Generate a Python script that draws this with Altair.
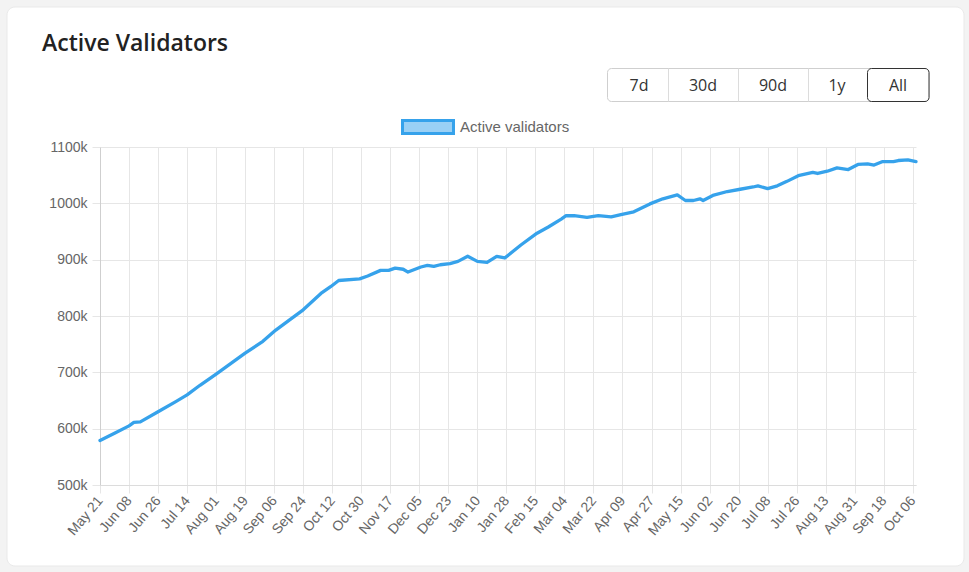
import altair as alt
import pandas as pd

# ---------------- data ----------------
dates = [
    "2023-05-21", "2023-05-30", "2023-06-08", "2023-06-11", "2023-06-15", "2023-06-26",
    "2023-07-07", "2023-07-14", "2023-07-22", "2023-08-01", "2023-08-19", "2023-08-30",
    "2023-09-07", "2023-09-16", "2023-09-24", "2023-10-05", "2023-10-11", "2023-10-16",
    "2023-10-29", "2023-11-03", "2023-11-11", "2023-11-16", "2023-11-20", "2023-11-25",
    "2023-11-28", "2023-12-06", "2023-12-10", "2023-12-14", "2023-12-18", "2023-12-24",
    "2023-12-29", "2024-01-04", "2024-01-10", "2024-01-16", "2024-01-22", "2024-01-27",
    "2024-02-06", "2024-02-16", "2024-02-23", "2024-03-02", "2024-03-05", "2024-03-10",
    "2024-03-18", "2024-03-25", "2024-04-02", "2024-04-08", "2024-04-16", "2024-04-26",
    "2024-05-04", "2024-05-13", "2024-05-18", "2024-05-23", "2024-05-27", "2024-05-29",
    "2024-06-04", "2024-06-13", "2024-06-21", "2024-06-29", "2024-07-02", "2024-07-08",
    "2024-07-14", "2024-07-20", "2024-07-27", "2024-08-05", "2024-08-08", "2024-08-14",
    "2024-08-20", "2024-08-27", "2024-09-02", "2024-09-08", "2024-09-12", "2024-09-17",
    "2024-09-24", "2024-09-27", "2024-10-03", "2024-10-08",
]
validators_k = [
    579, 592, 605, 611, 612, 630,
    648, 660, 677, 697, 734, 755,
    775, 794, 811, 840, 852, 863,
    866, 871, 881, 881, 885, 883,
    878, 887, 890, 888, 891, 893,
    897, 906, 897, 895, 906, 903,
    926, 947, 958, 972, 978, 978,
    975, 978, 976, 980, 985, 999,
    1008, 1015, 1005, 1005, 1008, 1005,
    1014, 1021, 1025, 1029, 1031, 1026,
    1031, 1039, 1049, 1055, 1053, 1057,
    1063, 1060, 1069, 1070, 1068, 1074,
    1074, 1076, 1077, 1074,
]
tick_dates = [
    "2023-05-21", "2023-06-08", "2023-06-26", "2023-07-14", "2023-08-01", "2023-08-19",
    "2023-09-06", "2023-09-24", "2023-10-12", "2023-10-30", "2023-11-17", "2023-12-05",
    "2023-12-23", "2024-01-10", "2024-01-28", "2024-02-15", "2024-03-04", "2024-03-22",
    "2024-04-09", "2024-04-27", "2024-05-15", "2024-06-02", "2024-06-20", "2024-07-08",
    "2024-07-26", "2024-08-13", "2024-08-31", "2024-09-18", "2024-10-06",
]
y_ticks = [500, 600, 700, 800, 900, 1000, 1100]
title_text = "Active Validators"
series_name = "Active validators"
buttons = ["7d", "30d", "90d", "1y", "All"]

# ---------------- layout ----------------
W, H = 816, 338
LEFT, TOP, RIGHT, BOTTOM = 100, 147, 53, 87
BLUE = "#36a2eb"
GRID = "#e6e6e6"
AX_FONT = "Liberation Sans"
UI_FONT = "Open Sans"


def utc_ms(s):
    return int(pd.Timestamp(s, tz="UTC").value // 10**6)


df = pd.DataFrame({"date": dates, "validators": validators_k})
one = pd.DataFrame({"k": [0]})

line = alt.Chart(df).mark_line(
    color=BLUE, strokeWidth=3.3, strokeJoin="round", strokeCap="round"
).encode(
    x=alt.X(
        "date:T",
        title=None,
        scale=alt.Scale(type="utc", domain=[utc_ms(dates[0]), utc_ms(dates[-1])]),
        axis=alt.Axis(
            values=[utc_ms(t) for t in tick_dates],
            labelExpr="utcFormat(datum.value, '%b %d')",
            labelAngle=-50,
            labelAlign="right",
            labelBaseline="middle",
            labelFont=AX_FONT,
            labelFontSize=14,
            labelColor="#666666",
            labelPadding=5,
            labelOverlap=False,
            labelFlush=False,
            grid=True,
            gridColor=GRID,
            tickColor=GRID,
            tickSize=8,
            domainColor="#dcdcdc",
        ),
    ),
    y=alt.Y(
        "validators:Q",
        title=None,
        scale=alt.Scale(domain=[y_ticks[0], y_ticks[-1]], nice=False, zero=False),
        axis=alt.Axis(
            values=y_ticks,
            labelExpr="datum.value + 'k'",
            labelFont=AX_FONT,
            labelFontSize=14,
            labelColor="#666666",
            labelPadding=5,
            grid=True,
            gridColor=GRID,
            tickColor=GRID,
            tickSize=8,
            domainColor="#cfcfcf",
        ),
    ),
)

# page frame (grey outside the rounded white card)
card_l, card_r, card_t, card_b = -93, 864, -140, 419
S = 20
frame = alt.Chart(one).mark_rect(
    fillOpacity=0, stroke="#f3f3f3", strokeWidth=S, cornerRadius=8 + S / 2
).encode(
    x=alt.value(card_l - S / 2), x2=alt.value(card_r + S / 2),
    y=alt.value(card_t - S / 2), y2=alt.value(card_b + S / 2),
)
card_border = alt.Chart(one).mark_rect(
    fillOpacity=0, stroke="#e9e9e9", strokeWidth=1, cornerRadius=8
).encode(
    x=alt.value(card_l), x2=alt.value(card_r), y=alt.value(card_t), y2=alt.value(card_b)
)

title = alt.Chart(pd.DataFrame({"t": [title_text]})).mark_text(
    font=UI_FONT, fontSize=23, fontWeight=600, color="#222222",
    align="left", baseline="middle",
).encode(x=alt.value(-58), y=alt.value(-103), text="t:N")

# button group
bx0, bx1, by0, by1 = 507.5, 829, -78.5, -45.5
group = alt.Chart(one).mark_rect(
    fill="white", stroke="#cfcfcf", strokeWidth=1, cornerRadius=4
).encode(x=alt.value(bx0), x2=alt.value(bx1), y=alt.value(by0), y2=alt.value(by1))
layers_btn = [group]
for dx in [568.5, 638.5, 708.5]:
    layers_btn.append(
        alt.Chart(one).mark_rule(color="#dcdcdc", strokeWidth=1).encode(
            x=alt.value(dx), y=alt.value(by0), y2=alt.value(by1)
        )
    )
layers_btn.append(
    alt.Chart(one).mark_rect(
        fill="white", stroke="#333333", strokeWidth=1, cornerRadius=4
    ).encode(x=alt.value(767.5), x2=alt.value(bx1), y=alt.value(by0), y2=alt.value(by1))
)
for lbl, cx in zip(buttons, [539, 603, 673, 737, 798]):
    layers_btn.append(
        alt.Chart(pd.DataFrame({"b": [lbl]})).mark_text(
            font=UI_FONT, fontSize=16, color="#333333", align="center", baseline="middle"
        ).encode(x=alt.value(cx), y=alt.value(-61), text="b:N")
    )

# legend
leg_box = alt.Chart(one).mark_rect(
    fill="rgba(54,162,235,0.5)", stroke=BLUE, strokeWidth=3
).encode(x=alt.value(302.5), x2=alt.value(353.5), y=alt.value(-26.5), y2=alt.value(-13.5))
leg_text = alt.Chart(pd.DataFrame({"s": [series_name]})).mark_text(
    font=AX_FONT, fontSize=15, color="#666666", align="left", baseline="middle"
).encode(x=alt.value(360), y=alt.value(-20), text="s:N")

chart = alt.layer(
    line, frame, card_border, title, *layers_btn, leg_box, leg_text
).properties(
    width=W, height=H,
    padding={"left": LEFT, "top": TOP, "right": RIGHT, "bottom": BOTTOM},
    autosize=alt.AutoSizeParams(type="none"),
    background="white",
).configure_view(stroke=None)

chart.save("out.html", embed_options={"renderer": "svg", "actions": False})
